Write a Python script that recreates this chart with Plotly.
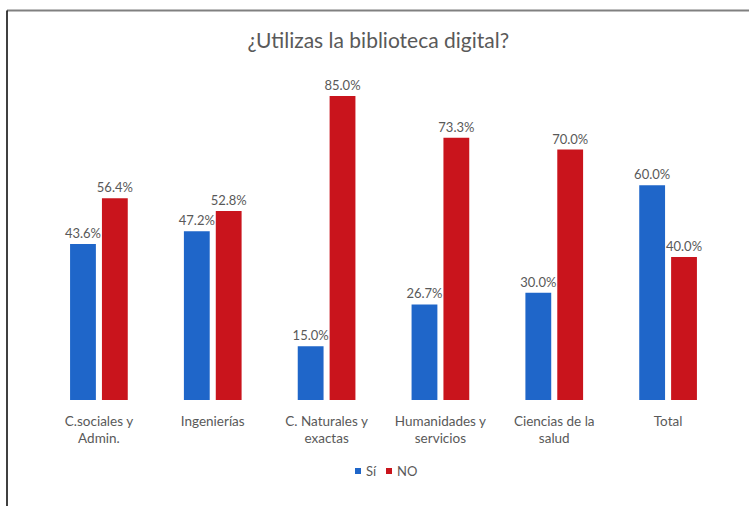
import plotly.graph_objects as go

categories = ["C.sociales y<br>Admin.", "Ingenierías", "C. Naturales y<br>exactas",
              "Humanidades y<br>servicios", "Ciencias de la<br>salud", "Total"]
si_values = [43.6, 47.2, 15.0, 26.7, 30.0, 60.0]
no_values = [56.4, 52.8, 85.0, 73.3, 70.0, 40.0]
series_names = ["Sí", "NO"]

FONT = "Lato"
GREY = "#595959"
BLUE = "#1F66C9"
RED = "#C9141C"
colors = [BLUE, RED]

W, H = 749, 506
L, R, T, B = 42, 24, 78, 106
PW, PH = W - L - R, H - T - B

fig = go.Figure()
for name, vals, col in zip(series_names, [si_values, no_values], colors):
    fig.add_trace(go.Bar(
        x=categories, y=vals, name=name, marker=dict(color=col, line=dict(width=0)),
        text=[f"{v:.1f}%" for v in vals], textposition="outside", constraintext="none",
        textfont=dict(family=FONT, size=13, color=GREY), cliponaxis=False,
        showlegend=False,
    ))

def px_x(x):
    return (x - L) / PW

def px_y(y):
    return 1 - (y - T) / PH

shapes = [
    dict(type="line", xref="paper", yref="paper", x0=px_x(7), x1=px_x(760),
         y0=px_y(10.5), y1=px_y(10.5), line=dict(color="#808080", width=2)),
    dict(type="line", xref="paper", yref="paper", x0=px_x(7), x1=px_x(7),
         y0=px_y(10.5), y1=px_y(520), line=dict(color="black", width=1.5)),
]
annotations = []
# legend drawn as small squares and labels
legend_x = [355, 386]
legend_y = 471
for lx, name, col in zip(legend_x, series_names, colors):
    shapes.append(dict(type="rect", xref="paper", yref="paper",
                       x0=px_x(lx), x1=px_x(lx + 6), y0=px_y(legend_y + 3), y1=px_y(legend_y - 3),
                       fillcolor=col, line=dict(width=0)))
    annotations.append(dict(text=name, xref="paper", yref="paper", x=px_x(lx + 9), y=px_y(legend_y),
                            xanchor="left", yanchor="middle", showarrow=False,
                            font=dict(family=FONT, size=13, color=GREY)))

fig.update_layout(
    width=W, height=H,
    margin=dict(l=L, r=R, t=T, b=B),
    paper_bgcolor="white", plot_bgcolor="white",
    barmode="group", bargap=0.44, bargroupgap=0.19,
    title=dict(text="¿Utilizas la biblioteca digital?", x=0.505, xanchor="center",
               y=1 - 41 / H, yanchor="middle",
               font=dict(family=FONT, size=21, color=GREY)),
    xaxis=dict(showgrid=False, showline=False, ticks="", zeroline=False,
               ticklabelstandoff=11,
               tickfont=dict(family=FONT, size=13.5, color=GREY)),
    yaxis=dict(range=[0, 90], visible=False),
    showlegend=False,
    font=dict(family=FONT, color=GREY),
    shapes=shapes,
    annotations=annotations,
)

fig.write_html("out.html")
